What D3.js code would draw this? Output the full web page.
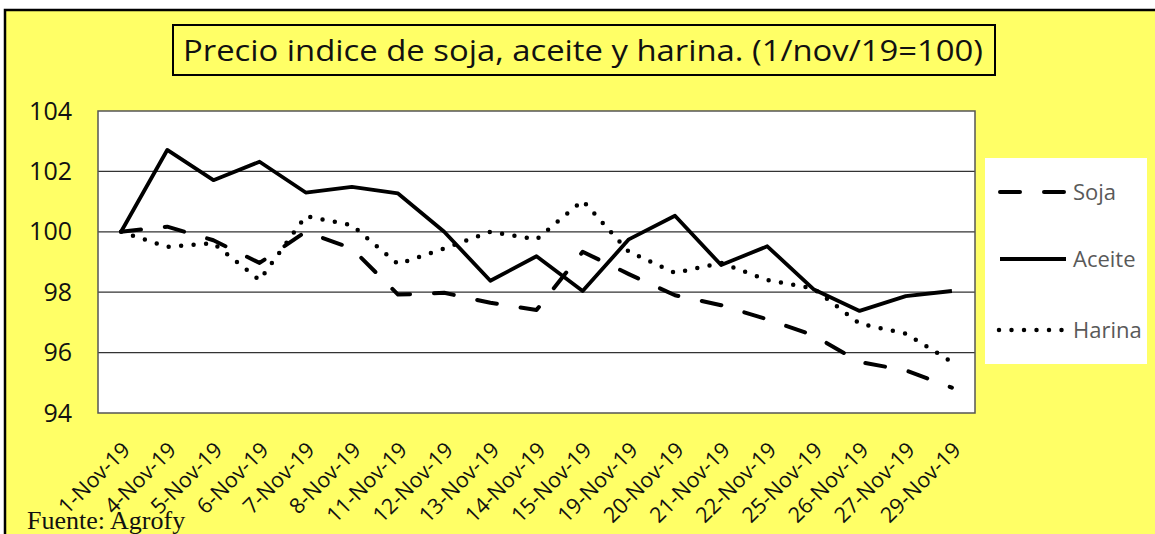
<!DOCTYPE html>
<html lang="es">
<head>
    <meta charset="UTF-8">
    <title>Precio indice de soja, aceite y harina</title>
    <script src="https://d3js.org/d3.v7.min.js"></script>
    <style>
        body{
            margin: 0;
            background-color: white;
        }
        #canvas{
            display: block;
        }
        .tick text{
            font-family: "Open Sans", sans-serif;
        }
    </style>
</head>
<body>
    <svg id='canvas' width='1155' height='534'></svg>
    <script>
        // data
        let fechas = ['1-Nov-19','4-Nov-19','5-Nov-19','6-Nov-19','7-Nov-19','8-Nov-19',
            '11-Nov-19','12-Nov-19','13-Nov-19','14-Nov-19','15-Nov-19','19-Nov-19',
            '20-Nov-19','21-Nov-19','22-Nov-19','25-Nov-19','26-Nov-19','27-Nov-19','29-Nov-19'];
        let soja = [100, 100.17, 99.72, 98.97, 100.0, 99.45, 97.92, 97.98, 97.65, 97.41,
            99.34, 98.6, 97.9, 97.57, 97.1, 96.57, 95.69, 95.41, 94.84];
        let aceite = [100, 102.71, 101.71, 102.32, 101.3, 101.49, 101.27, 100.0, 98.38, 99.19,
            98.04, 99.75, 100.53, 98.9, 99.52, 98.1, 97.38, 97.87, 98.04];
        let harina = [100, 99.5, 99.62, 98.4, 100.52, 100.22, 98.93, 99.45, 100.0, 99.75,
            101.03, 99.34, 98.64, 98.97, 98.4, 98.12, 96.96, 96.63, 95.69];
        let yTicks = [94, 96, 98, 100, 102, 104];
        let titulo = 'Precio indice de soja, aceite y harina. (1/nov/19=100)';

        let series = [
            {name: 'Soja', values: soja, dash: '20,24', cap: 'round', width: 4},
            {name: 'Aceite', values: aceite, dash: null, cap: 'butt', width: 3.8},
            {name: 'Harina', values: harina, dash: '0,12.5', cap: 'round', width: 4.5}
        ];

        let svg = d3.select('svg');
        let yellow = '#ffff66';

        // outer frame
        svg.append('rect')
            .attr('x', 5).attr('y', 10)
            .attr('width', 1200).attr('height', 600)
            .attr('fill', yellow)
            .attr('stroke', 'black')
            .attr('stroke-width', 2.5);

        // title box
        svg.append('rect')
            .attr('x', 173).attr('y', 25)
            .attr('width', 822).attr('height', 50)
            .attr('fill', yellow)
            .attr('stroke', 'black')
            .attr('stroke-width', 2);
        svg.append('text')
            .attr('x', 183).attr('y', 61)
            .attr('textLength', 800)
            .attr('lengthAdjust', 'spacingAndGlyphs')
            .style('font-family', '"Open Sans", sans-serif')
            .style('font-size', '29px')
            .attr('fill', '#111')
            .text(titulo);

        let plot = {left: 98, top: 111, right: 975, bottom: 413};

        let x = d3.scalePoint()
            .domain(fechas)
            .range([plot.left, plot.right])
            .padding(0.5);
        let y = d3.scaleLinear()
            .domain([94, 104])
            .range([plot.bottom, plot.top]);

        // plot area
        svg.append('rect')
            .attr('x', plot.left).attr('y', plot.top)
            .attr('width', plot.right - plot.left)
            .attr('height', plot.bottom - plot.top)
            .attr('fill', 'white');

        // gridlines
        svg.append('g')
            .selectAll('line')
            .data(yTicks.slice(1, -1))
            .join('line')
            .attr('x1', plot.left).attr('x2', plot.right)
            .attr('y1', d => y(d)).attr('y2', d => y(d))
            .attr('stroke', '#333')
            .attr('stroke-width', 1.2);

        svg.append('rect')
            .attr('x', plot.left).attr('y', plot.top)
            .attr('width', plot.right - plot.left)
            .attr('height', plot.bottom - plot.top)
            .attr('fill', 'none')
            .attr('stroke', '#555')
            .attr('stroke-width', 1.5);

        // y axis labels
        let yAxis = svg.append('g')
            .attr('transform', 'translate(' + (plot.left - 26) + ',0)')
            .call(d3.axisLeft(y).tickValues(yTicks).tickSize(0).tickPadding(0));
        yAxis.select('.domain').remove();
        yAxis.selectAll('text')
            .style('font-size', '25px')
            .attr('fill', '#111');

        // x axis labels, rotated
        svg.append('g')
            .selectAll('text')
            .data(fechas)
            .join('text')
            .attr('transform', d => 'translate(' + (x(d) + 5) + ',446) rotate(-45)')
            .attr('text-anchor', 'end')
            .attr('dy', '0.35em')
            .style('font-family', '"Open Sans", sans-serif')
            .style('font-size', '21.5px')
            .attr('fill', '#111')
            .text(d => d);

        // lines
        let line = d3.line()
            .x((d, i) => x(fechas[i]))
            .y(d => y(d));

        svg.append('g')
            .selectAll('path')
            .data(series)
            .join('path')
            .attr('d', d => line(d.values))
            .attr('fill', 'none')
            .attr('stroke', 'black')
            .attr('stroke-width', d => d.width)
            .attr('stroke-dasharray', d => d.dash)
            .attr('stroke-linecap', d => d.cap)
            .attr('stroke-linejoin', 'round');

        // legend
        let legend = svg.append('g');
        legend.append('rect')
            .attr('x', 985).attr('y', 158)
            .attr('width', 162).attr('height', 206)
            .attr('fill', 'white');
        let items = legend.selectAll('g')
            .data(series)
            .join('g')
            .attr('transform', (d, i) => 'translate(0,' + [192, 259, 330][i] + ')');
        items.append('line')
            .attr('x1', d => d.name == 'Harina' ? 999 : 1000)
            .attr('x2', d => d.name == 'Harina' ? 1067 : 1066)
            .attr('stroke', 'black')
            .attr('stroke-width', d => d.width)
            .attr('stroke-dasharray', d => d.dash)
            .attr('stroke-linecap', d => d.cap);
        items.append('text')
            .attr('x', 1073)
            .attr('dy', '0.35em')
            .style('font-family', '"Open Sans", sans-serif')
            .style('font-size', '22px')
            .attr('fill', '#595959')
            .text(d => d.name);

        // source
        svg.append('text')
            .attr('x', 27).attr('y', 529)
            .style('font-family', '"Liberation Serif", serif')
            .style('font-size', '26px')
            .attr('fill', '#111')
            .text('Fuente: Agrofy');
    </script>
</body>
</html>
